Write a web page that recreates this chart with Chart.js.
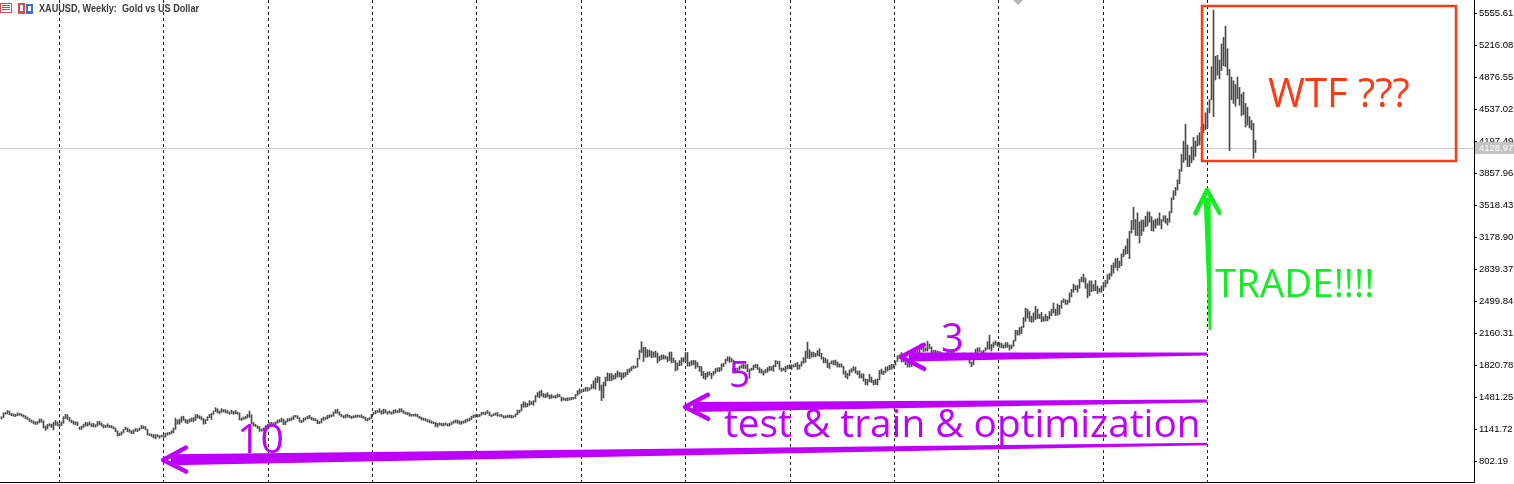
<!DOCTYPE html>
<html>
<head>
<meta charset="utf-8">
<script src="https://cdn.jsdelivr.net/npm/chart.js@4.4.1/dist/chart.umd.min.js"></script>
<style>
html,body{margin:0;padding:0;background:#fff;overflow:hidden}
canvas{display:block}
</style>
</head>
<body>
<canvas id="grafico" width="1514" height="484"></canvas>
<script>
const simbolo = 'XAUUSD, Weekly:  Gold vs US Dollar';
const primeraSemana = '2014-06-12';
const inicioAnios = ['2015-01-01','2016-01-01','2017-01-01','2018-01-01','2019-01-01','2020-01-01',
    '2021-01-01','2022-01-01','2023-01-01','2024-01-01','2025-01-01','2026-01-01'];
const yTicks = [802.19,1141.72,1481.25,1820.78,2160.31,2499.84,2839.37,3178.90,3518.43,3857.96,
    4197.49,4537.02,4876.55,5216.08,5555.61];
const ultimoPrecio = 4128.97;

// minimo y maximo de cada vela semanal
const minimos = [
1255,1270,1305,1310,1300,1290,1285,1280,1290,1295, 1285,1275,1260,1250,1230,1220,1205,1195,1200,1215,
1220,1160,1135,1150,1180,1165,1140,1190,1185,1175, 1185,1210,1260,1250,1230,1215,1200,1195,1185,1145,
1145,1165,1180,1180,1190,1175,1170,1170,1180,1195, 1180,1160,1165,1170,1165,1160,1150,1120,1075,1080,
1085,1110,1140,1120,1115,1100,1100,1125,1120,1135, 1150,1155,1140,1085,1080,1070,1055,1045,1065,1050,
1065,1060,1062,1085,1090,1100,1110,1145,1200,1200, 1220,1240,1215,1205,1220,1230,1225,1240,1265,1260,
1245,1200,1205,1240,1270,1250,1305,1335,1320,1310, 1325,1330,1320,1315,1305,1315,1305,1310,1305,1245,
1240,1250,1255,1265,1275,1205,1180,1175,1155,1125, 1125,1130,1145,1165,1180,1200,1185,1190,1210,1220,
1225,1195,1195,1225,1235,1240,1250,1275,1260,1225, 1215,1225,1245,1255,1260,1245,1240,1235,1205,1205,
1215,1240,1250,1255,1270,1280,1285,1315,1315,1295, 1280,1265,1265,1275,1270,1260,1265,1270,1275,1275,
1270,1260,1240,1235,1245,1260,1300,1310,1325,1325, 1305,1310,1320,1305,1315,1305,1310,1320,1320,1325,
1330,1315,1305,1300,1285,1285,1285,1285,1275,1260, 1245,1240,1235,1225,1215,1210,1205,1175,1170,1190,
1185,1180,1190,1180,1180,1195,1210,1215,1210,1200, 1200,1210,1215,1230,1235,1250,1270,1275,1275,1280,
1295,1305,1300,1315,1290,1280,1290,1295,1285,1285, 1280,1265,1265,1270,1270,1265,1270,1280,1300,1320,
1340,1380,1380,1385,1400,1410,1400,1435,1490,1480, 1500,1485,1480,1490,1470,1475,1480,1475,1485,1490,
1445,1455,1450,1450,1455,1460,1465,1470,1505,1520, 1535,1545,1550,1550,1560,1575,1580,1570,1640,1560,
1450,1480,1605,1660,1660,1660,1675,1680,1700,1700, 1670,1690,1705,1725,1750,1765,1790,1795,1805,1890,
1960,1865,1910,1910,1920,1905,1910,1910,1850,1870, 1885,1890,1890,1860,1875,1850,1855,1765,1775,1820,
1825,1860,1865,1815,1815,1825,1830,1790,1805,1760, 1715,1685,1675,1700,1720,1680,1720,1740,1760,1755,
1770,1810,1840,1870,1855,1860,1760,1765,1750,1780, 1795,1790,1790,1755,1685,1770,1775,1800,1780,1745,
1740,1720,1745,1750,1765,1770,1760,1810,1840,1780, 1760,1770,1755,1785,1790,1780,1805,1810,1780,1785,
1815,1845,1855,1900,1895,1910,1915,1915,1925,1920, 1890,1850,1850,1800,1790,1840,1830,1825,1805,1805,
1805,1730,1695,1680,1715,1750,1765,1740,1725,1690, 1690,1655,1620,1615,1650,1640,1615,1620,1615,1670,
1730,1725,1745,1765,1775,1780,1795,1825,1865,1895, 1860,1860,1830,1805,1805,1810,1860,1935,1945,1950,
1990,1970,1975,1975,2000,1950,1935,1930,1935,1925, 1910,1895,1900,1915,1945,1940,1930,1910,1885,1885,
1905,1915,1905,1900,1845,1810,1830,1920,1960,1970, 1930,1935,1975,1995,1995,1975,2015,2040,2025,2015,
2010,2005,2010,2015,1985,2000,2025,2080,2145,2145, 2160,2225,2290,2325,2290,2280,2285,2310,2320,2320,
2285,2290,2295,2295,2315,2350,2380,2350,2355,2365, 2430,2490,2470,2470,2490,2550,2600,2625,2600,2640,
2710,2705,2640,2540,2560,2605,2615,2615,2585,2600, 2600,2635,2655,2690,2735,2770,2800,2860,2830,2860,
2880,2975,3000,3010,2955,3225,3265,3200,3200,3120, 3200,3245,3290,3300,3340,3250,3245,3280,3310,3310,
3270,3350,3330,3310,3340,3440,3580,3625,3680,3750, 3880,3975,4000,3930,3930,3970,4000,4040,4150,4160,
4200,4290,4320,4340,4500,4640,4460,4850,4900,4860, 4950,5000,4990,4900,4100,4640,4600,4570,4650,4580,
4470,4480,4350,4370,4340,4320,4020,4080
];
const maximos = [
1280,1320,1325,1345,1340,1315,1310,1305,1320,1315, 1310,1300,1290,1275,1260,1245,1235,1225,1230,1255,
1255,1235,1180,1200,1205,1200,1220,1240,1225,1205, 1225,1280,1305,1300,1270,1245,1235,1225,1225,1170,
1180,1200,1220,1215,1225,1205,1210,1195,1230,1230, 1215,1195,1190,1205,1190,1185,1175,1160,1130,1105,
1120,1145,1170,1160,1145,1130,1140,1155,1150,1160, 1190,1180,1175,1145,1100,1095,1090,1090,1090,1080,
1085,1080,1105,1110,1115,1130,1160,1265,1245,1255, 1280,1285,1255,1245,1255,1265,1270,1300,1305,1290,
1280,1260,1250,1280,1305,1315,1340,1375,1365,1340, 1365,1355,1355,1345,1330,1350,1335,1345,1330,1320,
1265,1275,1285,1305,1340,1300,1220,1200,1185,1175, 1150,1160,1185,1200,1215,1220,1215,1225,1245,1250,
1265,1255,1235,1260,1260,1270,1290,1295,1290,1270, 1240,1265,1270,1285,1295,1275,1265,1260,1245,1230,
1260,1275,1275,1295,1300,1300,1330,1355,1360,1330, 1305,1290,1300,1305,1295,1285,1290,1295,1300,1295,
1300,1285,1275,1260,1270,1305,1325,1345,1345,1365, 1345,1360,1355,1335,1340,1330,1350,1355,1345,1365,
1365,1345,1330,1325,1320,1305,1305,1310,1305,1285, 1275,1265,1260,1250,1245,1235,1225,1220,1210,1215,
1210,1210,1215,1205,1210,1225,1235,1245,1245,1235, 1230,1235,1250,1255,1265,1285,1300,1300,1300,1305,
1325,1325,1330,1345,1330,1300,1310,1320,1325,1300, 1305,1290,1290,1295,1300,1295,1290,1310,1350,1350,
1410,1440,1430,1420,1450,1440,1450,1505,1535,1550, 1560,1525,1520,1535,1510,1515,1500,1505,1520,1515,
1490,1480,1475,1480,1480,1485,1485,1515,1555,1575, 1565,1575,1590,1590,1585,1620,1660,1690,1705,1700,
1615,1645,1700,1745,1735,1740,1720,1740,1765,1750, 1745,1745,1750,1780,1790,1810,1820,1815,1900,1985,
2075,2015,2015,1990,1985,1975,1965,1975,1955,1920, 1935,1935,1925,1915,1965,1965,1900,1875,1850,1875,
1905,1905,1960,1960,1860,1875,1875,1875,1855,1815, 1810,1760,1740,1755,1755,1740,1760,1790,1800,1800,
1840,1845,1890,1915,1915,1900,1880,1795,1795,1815, 1830,1835,1830,1835,1785,1795,1825,1835,1835,1800,
1785,1765,1780,1800,1815,1810,1825,1875,1870,1865, 1795,1795,1815,1825,1830,1830,1830,1845,1855,1830,
1865,1905,1975,2070,1990,1965,1965,1950,1980,2000, 1950,1910,1900,1885,1850,1870,1875,1880,1860,1840,
1840,1815,1765,1740,1775,1790,1810,1805,1765,1765, 1735,1735,1680,1675,1730,1700,1665,1675,1680,1770,
1785,1765,1805,1810,1825,1835,1835,1870,1925,1935, 1960,1890,1875,1850,1860,1870,1990,2010,1990,2030,
2050,2015,2010,2080,2050,2020,1985,1985,1975,1970, 1960,1935,1935,1965,1985,1985,1975,1950,1925,1920,
1950,1955,1935,1950,1935,1860,1945,1995,2010,2010, 1975,1985,2010,2075,2145,2045,2070,2085,2065,2065,
2060,2040,2065,2065,2040,2040,2090,2195,2195,2225, 2235,2330,2430,2420,2395,2345,2380,2450,2420,2365,
2385,2340,2365,2345,2395,2420,2485,2420,2475,2460, 2510,2530,2520,2515,2590,2630,2685,2670,2670,2735,
2760,2790,2750,2690,2720,2720,2680,2725,2665,2640, 2665,2700,2725,2785,2800,2885,2910,2955,2960,2930,
3005,3055,3090,3165,3245,3360,3500,3370,3440,3345, 3365,3365,3405,3450,3450,3400,3360,3375,3380,3440,
3370,3410,3410,3380,3455,3600,3675,3710,3790,3900, 4060,4200,4380,4160,4050,4140,4240,4200,4260,4290,
4350,4380,4500,4550,4640,4990,5590,5100,5110,5060, 5230,5300,5420,5180,4960,4880,4840,4800,4880,4770,
4700,4720,4600,4560,4460,4420,4390,4210
];

// dibujos encima del grafico, en coordenadas del grafico (semana, precio)
const recuadro = {de: [600.25, 5633], a: [727.25, 3990], color: '#ff3a12'};
const flechas = [
    {cola: [602.75, 1944], punta: [449.75, 1912], color: '#c000ff', anchoCola: 3, anchoPunta: 9},
    {cola: [602.75, 1446], punta: [341.75, 1382], color: '#c000ff', anchoCola: 3, anchoPunta: 10},
    {cola: [602.75, 990], punta: [80.75, 821], color: '#c000ff', anchoCola: 2.5, anchoPunta: 11},
    {cola: [604.25, 2198], punta: [602.75, 3683], color: '#12ee22', anchoCola: 2.5, anchoPunta: 7}
];
const textos = [
    {texto: '3', en: [469.75, 1965], color: '#c000ff', tam: 40},
    {texto: '5', en: [363.75, 1594], color: '#c000ff', tam: 37},
    {texto: '10', en: [117.75, 895], color: '#c000ff', tam: 41},
    {texto: 'test & train & optimization', en: [361.25, 1064], color: '#c000ff', tam: 38.8},
    {texto: 'TRADE!!!!', en: [606.75, 2548], color: '#12ee22', tam: 38.5},
    {texto: 'WTF ???', en: [633.25, 4562], color: '#ff3a12', tam: 40}
];

function semanaDe(fecha){
    return (Date.parse(fecha) - Date.parse(primeraSemana)) / 604800000;
}

function dibujarFlecha(ctx, x1, y1, x2, y2, f){
    const largo = Math.hypot(x2 - x1, y2 - y1);
    const ux = (x2 - x1) / largo, uy = (y2 - y1) / largo;
    const nx = -uy, ny = ux;
    const bx = x2 - ux * 8, by = y2 - uy * 8;
    ctx.fillStyle = f.color;
    ctx.strokeStyle = f.color;
    ctx.beginPath();
    ctx.moveTo(x1 + nx * f.anchoCola / 2, y1 + ny * f.anchoCola / 2);
    ctx.lineTo(bx + nx * f.anchoPunta / 2, by + ny * f.anchoPunta / 2);
    ctx.lineTo(bx - nx * f.anchoPunta / 2, by - ny * f.anchoPunta / 2);
    ctx.lineTo(x1 - nx * f.anchoCola / 2, y1 - ny * f.anchoCola / 2);
    ctx.closePath();
    ctx.fill();
    ctx.lineWidth = 4.5;
    ctx.lineCap = 'round';
    ctx.lineJoin = 'round';
    ctx.beginPath();
    ctx.moveTo(x2 - ux * 23 + nx * 12, y2 - uy * 23 + ny * 12);
    ctx.lineTo(x2, y2);
    ctx.lineTo(x2 - ux * 23 - nx * 12, y2 - uy * 23 - ny * 12);
    ctx.stroke();
}

const anotaciones = {
    id: 'anotaciones',
    beforeDatasetsDraw(chart){
        const {ctx, chartArea, scales} = chart;
        const y = Math.round(scales.y.getPixelForValue(ultimoPrecio)) + 0.5;
        ctx.save();
        ctx.strokeStyle = '#c8c8c8';
        ctx.lineWidth = 1;
        ctx.beginPath();
        ctx.moveTo(chartArea.left, y);
        ctx.lineTo(chartArea.right, y);
        ctx.stroke();
        ctx.restore();
    },
    afterDraw(chart){
        const {ctx, chartArea, scales} = chart;
        const px = v => scales.x.getPixelForValue(v);
        const py = v => scales.y.getPixelForValue(v);
        ctx.save();

        // etiqueta del ultimo precio
        const yp = Math.round(py(ultimoPrecio));
        ctx.fillStyle = '#c3c3c3';
        ctx.fillRect(chartArea.right + 1, yp - 6, 40, 12);
        ctx.fillStyle = '#ffffff';
        ctx.font = '9.5px "Liberation Sans"';
        ctx.textBaseline = 'middle';
        ctx.fillText(ultimoPrecio.toFixed(2), chartArea.right + 5, yp + 0.5);

        // titulo e iconos
        ctx.fillStyle = '#e5484d';
        ctx.fillRect(0, 3, 12, 10);
        ctx.fillStyle = '#ffffff';
        ctx.fillRect(1, 4, 10, 8);
        ctx.fillStyle = '#3d6fd8';
        ctx.fillRect(2, 5, 8, 1);
        ctx.fillRect(2, 7, 8, 1);
        ctx.fillRect(2, 9, 8, 1);
        ctx.fillStyle = '#e5484d';
        ctx.fillRect(18, 3, 7, 11);
        ctx.fillStyle = '#3d6fd8';
        ctx.fillRect(26, 4, 7, 10);
        ctx.fillStyle = '#ffffff';
        ctx.fillRect(20, 5, 3, 6);
        ctx.fillRect(28, 6, 3, 5);
        ctx.font = 'bold 10.5px "Liberation Sans"';
        ctx.textBaseline = 'alphabetic';
        const anchoTitulo = ctx.measureText(simbolo).width;
        ctx.translate(39, 12);
        ctx.scale(160 / anchoTitulo, 1);
        ctx.fillStyle = '#3a3a3a';
        ctx.fillText(simbolo, 0, 0);
        ctx.setTransform(1, 0, 0, 1, 0, 0);

        // marca gris arriba
        ctx.fillStyle = '#b4b4b4';
        ctx.beginPath();
        ctx.moveTo(1013, 0);
        ctx.lineTo(1023, 0);
        ctx.lineTo(1018, 5);
        ctx.closePath();
        ctx.fill();

        // recuadro rojo
        ctx.strokeStyle = recuadro.color;
        ctx.lineWidth = 2.5;
        const rx = px(recuadro.de[0]), ry = py(recuadro.de[1]);
        ctx.strokeRect(rx, ry, px(recuadro.a[0]) - rx, py(recuadro.a[1]) - ry);

        for (const f of flechas) {
            dibujarFlecha(ctx, px(f.cola[0]), py(f.cola[1]), px(f.punta[0]), py(f.punta[1]), f);
        }
        ctx.textBaseline = 'alphabetic';
        ctx.textAlign = 'left';
        for (const t of textos) {
            ctx.font = `${t.tam}px "Open Sans"`;
            ctx.fillStyle = t.color;
            ctx.fillText(t.texto, px(t.en[0]), py(t.en[1]));
        }
        ctx.restore();
    }
};

const ctx = document.getElementById('grafico').getContext('2d');
new Chart(ctx, {
    type: 'bar',
    data: {
        datasets: [{
            data: minimos.map((m, i) => ({x: i, y: [m, maximos[i]]})),
            backgroundColor: '#4a4a4a',
            borderWidth: 0,
            barThickness: 1
        }]
    },
    options: {
        responsive: false,
        animation: false,
        devicePixelRatio: 1,
        layout: {padding: 0},
        plugins: {legend: {display: false}, tooltip: {enabled: false}},
        scales: {
            x: {
                type: 'linear',
                min: -0.75,
                max: 736.25,
                offset: false,
                afterBuildTicks: s => { s.ticks = inicioAnios.map(f => ({value: semanaDe(f)})); },
                afterFit: s => { s.height = 2; s.paddingLeft = 0; s.paddingRight = 0; },
                ticks: {display: false},
                grid: {color: '#222', lineWidth: 1, drawTicks: false, offset: false},
                border: {display: true, color: '#000', width: 1, dash: [3, 3]}
            },
            y: {
                position: 'right',
                min: 587.4,
                max: 5696.6,
                afterBuildTicks: s => { s.ticks = yTicks.map(v => ({value: v})); },
                afterFit: s => { s.width = 40; s.paddingTop = 0; s.paddingBottom = 0; },
                ticks: {
                    color: '#000',
                    font: {family: 'Liberation Sans', size: 9.5},
                    padding: 2,
                    autoSkip: false,
                    callback: v => v.toFixed(2)
                },
                grid: {drawOnChartArea: false, drawTicks: true, tickLength: 3, color: '#000'},
                border: {color: '#000'}
            }
        }
    },
    plugins: [anotaciones]
});
</script>
</body>
</html>
